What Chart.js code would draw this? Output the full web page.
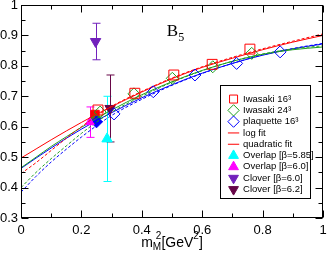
<!DOCTYPE html>
<html>
<head>
<meta charset="utf-8">
<script src="https://cdn.jsdelivr.net/npm/chart.js@4.4.1/dist/chart.umd.min.js"></script>
<style>
  html, body { margin: 0; padding: 0; background: #fff; }
</style>
</head>
<body>
<canvas id="chart" width="327" height="253"></canvas>
<script>
// measured points (x = m_M^2 in GeV^2, y = B5)
const iwa16X = [0.255, 0.377, 0.506, 0.633, 0.758];
const iwa16Y = [0.655, 0.710, 0.770, 0.805, 0.855];
const iwa24X = [0.262, 0.374, 0.501, 0.635, 0.764];
const iwa24Y = [0.648, 0.708, 0.759, 0.797, 0.841];
const plaqX = [0.308, 0.438, 0.576, 0.714, 0.858];
const plaqY = [0.642, 0.715, 0.770, 0.808, 0.846];

// values at the physical point (filled symbols)
const physIwa16 = [0.245, 0.640];
const physIwa24 = [0.247, 0.628];
const physPlaq = [0.250, 0.616];

// other groups: [x, y, error]
const overlap585 = [0.285, 0.560, 0.14];
const overlap60 = [0.228, 0.615, 0.05];
const clover60 = [0.247, 0.880, 0.06];
const clover62 = [0.295, 0.660, 0.11];

const fitX = [0, 0.05, 0.1, 0.15, 0.2, 0.25, 0.3, 0.4, 0.5, 0.6, 0.7, 0.8, 0.9, 1.0];
const quadRed = [0.497, 0.527, 0.557, 0.586, 0.614, 0.641, 0.666, 0.714, 0.758, 0.795, 0.825, 0.853, 0.878, 0.900];
const logRed = [0.446, 0.482, 0.522, 0.562, 0.600, 0.635, 0.667, 0.716, 0.760, 0.797, 0.828, 0.856, 0.881, 0.905];
const quadGreen = [0.465, 0.500, 0.535, 0.567, 0.598, 0.627, 0.655, 0.705, 0.748, 0.785, 0.815, 0.838, 0.853, 0.862];
const logGreen = [0.400, 0.450, 0.495, 0.537, 0.578, 0.615, 0.648, 0.700, 0.746, 0.784, 0.815, 0.839, 0.856, 0.866];
const quadBlue = [0.463, 0.497, 0.530, 0.562, 0.592, 0.620, 0.646, 0.695, 0.738, 0.776, 0.808, 0.835, 0.856, 0.872];
const logBlue = [0.385, 0.437, 0.484, 0.526, 0.566, 0.603, 0.637, 0.690, 0.736, 0.775, 0.808, 0.836, 0.857, 0.874];

const RED = '#ff0000', GREEN = '#1f9f1f', BLUE = '#0000ff';
const CYAN = '#00ffff', MAGENTA = '#ff00ff', VIOLET = '#7221bc', MAROON = '#670748';
const SANS = '"Liberation Sans", Arial, Helvetica, sans-serif';
const SERIF = '"Liberation Serif", "Times New Roman", serif';
const LEGEND_COUNT = 9;

const pts = (xs, ys) => xs.map((x, i) => ({ x: x, y: ys[i] }));

function marker(label, data, style, color, radius, filled, extra) {
  return Object.assign({
    label: label,
    data: data,
    showLine: false,
    pointStyle: style,
    pointRadius: radius,
    pointHoverRadius: radius,
    borderColor: color,
    backgroundColor: filled ? color : 'rgba(0,0,0,0)',
    pointBorderWidth: 1,
    borderWidth: 1
  }, extra || {});
}

function fitLine(label, ys, color, dashed) {
  return {
    label: label,
    data: pts(fitX, ys),
    showLine: true,
    pointRadius: 0,
    pointStyle: 'line',
    borderColor: color,
    backgroundColor: color,
    borderWidth: 1,
    borderDash: dashed ? [3, 2] : [],
    cubicInterpolationMode: 'monotone'
  };
}

const one = (p) => [{ x: p[0], y: p[1] }];

const datasets = [
  marker('Iwasaki 16³', pts(iwa16X, iwa16Y), 'rect', RED, 7, false),
  marker('Iwasaki 24³', pts(iwa24X, iwa24Y), 'rectRot', GREEN, 6, false),
  marker('plaquette 16³', pts(plaqX, plaqY), 'rectRot', BLUE, 6, false),
  fitLine('log fit', logRed, RED, true),
  fitLine('quadratic fit', quadRed, RED, false),
  marker('Overlap [β=5.85]', one(overlap585), 'triangle', CYAN, 6, true, { errors: [overlap585[2]] }),
  marker('Overlap [β=6.0]', one(overlap60), 'triangle', MAGENTA, 5, true, { errors: [overlap60[2]] }),
  marker('Clover [β=6.0]', one(clover60), 'triangle', VIOLET, 6, true, { errors: [clover60[2]], pointRotation: 180 }),
  marker('Clover [β=6.2]', one(clover62), 'triangle', MAROON, 6, true, { errors: [clover62[2]], pointRotation: 180 }),
  fitLine('log fit 24', logGreen, GREEN, true),
  fitLine('quad fit 24', quadGreen, GREEN, false),
  fitLine('log fit plaq', logBlue, BLUE, true),
  fitLine('quad fit plaq', quadBlue, BLUE, false),
  marker('phys plaq', [{ x: physPlaq[0], y: physPlaq[1] }], 'rectRot', BLUE, 6, true),
  marker('phys 24', [{ x: physIwa24[0], y: physIwa24[1] }], 'rectRot', GREEN, 5, true),
  marker('phys 16', [{ x: physIwa16[0], y: physIwa16[1] }], 'rect', RED, 6, true)
];

// error bars, drawn under the symbols
const errorBars = {
  id: 'errorBars',
  beforeDatasetsDraw(chart) {
    const { ctx, scales: { x, y } } = chart;
    ctx.save();
    ctx.lineWidth = 1;
    chart.data.datasets.forEach((ds) => {
      if (!ds.errors) return;
      ds.data.forEach((p, i) => {
        const px = Math.round(x.getPixelForValue(p.x)) + 0.5;
        const top = y.getPixelForValue(p.y + ds.errors[i]);
        const bot = y.getPixelForValue(p.y - ds.errors[i]);
        ctx.strokeStyle = ds.borderColor;
        ctx.beginPath();
        ctx.moveTo(px, top); ctx.lineTo(px, bot);
        ctx.moveTo(px - 4, top); ctx.lineTo(px + 4, top);
        ctx.moveTo(px - 4, bot); ctx.lineTo(px + 4, bot);
        ctx.stroke();
      });
    });
    ctx.restore();
  }
};

// frame with inward major and minor ticks on all four sides
const frame = {
  id: 'frame',
  afterDraw(chart) {
    const { ctx, chartArea: a, scales: { x, y } } = chart;
    ctx.save();
    ctx.strokeStyle = '#000';
    ctx.lineWidth = 1;
    const L = Math.round(a.left) + 0.5, R = Math.round(a.right) - 0.5;
    const T = Math.round(a.top) + 0.5, B = Math.round(a.bottom) - 0.5;
    ctx.strokeRect(L, T, R - L, B - T);
    ctx.beginPath();
    const xt = x.ticks.map(t => t.value);
    xt.forEach((v, i) => {
      const px = Math.round(x.getPixelForValue(v)) + 0.5;
      ctx.moveTo(px, B); ctx.lineTo(px, B - 7);
      ctx.moveTo(px, T); ctx.lineTo(px, T + 7);
      if (i < xt.length - 1) {
        const mx = Math.round(x.getPixelForValue((v + xt[i + 1]) / 2)) + 0.5;
        ctx.moveTo(mx, B); ctx.lineTo(mx, B - 4);
        ctx.moveTo(mx, T); ctx.lineTo(mx, T + 4);
      }
    });
    const yt = y.ticks.map(t => t.value);
    yt.forEach((v, i) => {
      const py = Math.round(y.getPixelForValue(v)) + 0.5;
      ctx.moveTo(L, py); ctx.lineTo(L + 7, py);
      ctx.moveTo(R, py); ctx.lineTo(R - 7, py);
      if (i < yt.length - 1) {
        const my = Math.round(y.getPixelForValue((v + yt[i + 1]) / 2)) + 0.5;
        ctx.moveTo(L, my); ctx.lineTo(L + 4, my);
        ctx.moveTo(R, my); ctx.lineTo(R - 4, my);
      }
    });
    ctx.stroke();

    // legend box
    const lg = chart.legend;
    ctx.strokeRect(Math.round(lg.left) - 6.5, Math.round(lg.top) - 7.5, 90, 113);

    // B5 label
    ctx.fillStyle = '#000';
    ctx.textBaseline = 'alphabetic';
    ctx.textAlign = 'left';
    const bx = x.getPixelForValue(0.483), by = y.getPixelForValue(0.898);
    ctx.font = '17px ' + SERIF;
    ctx.fillText('B', bx, by);
    const bw = ctx.measureText('B').width;
    ctx.font = '12px ' + SERIF;
    ctx.fillText('5', bx + bw, by + 5);

    // x axis title m_M^2[GeV^2]
    const big = '14px ' + SANS, small = '10px ' + SANS;
    const w = (t, f) => { ctx.font = f; return ctx.measureText(t).width; };
    const wm = w('m', big), wsub = Math.max(w('M', small), w('2', small) + 3);
    const wg = w('[GeV', big), w2 = w('2', small), wb = w(']', big);
    const total = wm + wsub + wg + w2 + wb;
    let cx = (a.left + a.right) / 2 - total / 2;
    const base = 247;
    ctx.font = big; ctx.fillText('m', cx, base); cx += wm;
    ctx.font = small; ctx.fillText('M', cx, base + 3); ctx.fillText('2', cx + 3, base - 8); cx += wsub;
    ctx.font = big; ctx.fillText('[GeV', cx, base); cx += wg;
    ctx.font = small; ctx.fillText('2', cx, base - 8); cx += w2;
    ctx.font = big; ctx.fillText(']', cx, base);
    ctx.restore();
  }
};

// move the legend into the lower right corner of the plot
const legendPlace = {
  id: 'legendPlace',
  afterLayout(chart) {
    const lg = chart.legend, a = chart.chartArea;
    lg.left = a.right - 96;
    lg.top = a.top + 87.5;
    lg.right = a.right;
    lg.bottom = a.bottom + 60;
  }
};

const fmt = (v) => String(Math.round(v * 10) / 10);

new Chart(document.getElementById('chart'), {
  type: 'scatter',
  data: { datasets: datasets },
  plugins: [legendPlace, errorBars, frame],
  options: {
    responsive: false,
    animation: false,
    events: [],
    layout: { autoPadding: false, padding: { left: 0, right: 4, top: 5, bottom: 0 } },
    plugins: {
      tooltip: { enabled: false },
      title: { display: false },
      legend: {
        position: 'chartArea',
        align: 'start',
        labels: {
          usePointStyle: true,
          boxWidth: 10,
          boxHeight: 8,
          padding: 1.8,
          color: '#000',
          font: { family: SANS, size: 9.5 },
          filter: (item) => item.datasetIndex < LEGEND_COUNT
        }
      }
    },
    scales: {
      x: {
        type: 'linear',
        min: 0, max: 1,
        grid: { display: false, drawTicks: false },
        border: { display: false },
        ticks: { stepSize: 0.2, color: '#000', padding: 5, maxRotation: 0, font: { family: SANS, size: 13 }, callback: fmt },
        afterFit: (s) => { s.height = 35; s.paddingLeft = 0; s.paddingRight = 0; }
      },
      y: {
        type: 'linear',
        min: 0.3, max: 1,
        grid: { display: false, drawTicks: false },
        border: { display: false },
        ticks: { stepSize: 0.1, color: '#000', padding: 3, font: { family: SANS, size: 13 }, callback: fmt },
        afterFit: (s) => { s.width = 21; s.paddingTop = 0; s.paddingBottom = 0; }
      }
    }
  }
});
</script>
</body>
</html>
